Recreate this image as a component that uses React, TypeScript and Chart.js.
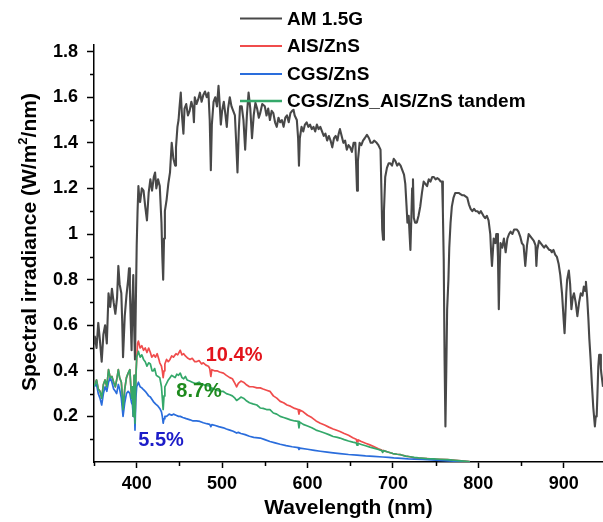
import React, { useEffect, useRef } from "react";
import { Chart, registerables } from "chart.js";

Chart.register(...registerables);

// ---------- data (wavelength nm, irradiance W/m2/nm) ----------
const am15: number[][] = [
  [350, 0.52], [351, 0.55], [353, 0.5], [355, 0.61], [357, 0.53], [359, 0.44], [361, 0.56], [363, 0.6],
  [365, 0.52], [367, 0.74], [369, 0.68], [371, 0.76], [373, 0.7], [375, 0.65], [377, 0.72], [378.5, 0.86],
  [380, 0.78], [382, 0.74], [383, 0.62], [384, 0.46], [386, 0.64], [388, 0.73], [390, 0.8], [391, 0.85],
  [392, 0.76], [393, 0.62], [394, 0.49], [395, 0.7], [396, 0.82], [397, 0.6], [398, 0.45], [399, 0.7],
  [400, 0.95], [401, 1.1], [402, 1.21], [403, 1.16], [404, 1.14], [406, 1.2], [408, 1.19], [410, 1.12],
  [412, 1.06], [414, 1.18], [416, 1.24], [418, 1.19], [420, 1.25], [421.5, 1.27], [423, 1.2], [425, 1.24],
  [427, 1.21], [429, 1.05], [430, 0.9], [431, 0.8], [432, 0.98], [433, 1.1], [435, 1.15], [437, 1.22],
  [439, 1.27], [441, 1.4], [443, 1.33], [445, 1.3], [446, 1.38], [447.7, 1.47], [449, 1.5], [450, 1.55],
  [451.6, 1.62], [453, 1.52], [454.7, 1.44], [456, 1.55], [458, 1.57], [460, 1.52], [462, 1.54], [464, 1.58],
  [466, 1.55], [467, 1.49], [468, 1.6], [470, 1.57], [472, 1.59], [474, 1.62], [476, 1.58], [478, 1.61], [480, 1.625],
  [482, 1.6], [484, 1.62], [485.5, 1.5], [486.8, 1.28], [488, 1.48], [490, 1.58], [492, 1.6], [494, 1.56],
  [495.8, 1.65], [497, 1.58], [498.5, 1.48], [500, 1.54], [502, 1.58], [504, 1.52], [505.5, 1.47], [507, 1.55],
  [509, 1.6], [511, 1.56], [513, 1.54], [515, 1.52], [516.5, 1.4], [518, 1.27], [519.5, 1.45], [521, 1.56],
  [523, 1.56], [525, 1.5], [527, 1.37], [529, 1.52], [531, 1.62], [533, 1.55], [535, 1.42], [537, 1.52],
  [539, 1.575], [541, 1.55], [543, 1.51], [544.6, 1.53], [547, 1.57], [550, 1.56], [552, 1.52], [554, 1.55],
  [556, 1.5], [558, 1.54], [560, 1.53], [562, 1.49], [564, 1.47], [566, 1.51], [568, 1.49], [570, 1.5],
  [572, 1.47], [574, 1.51], [576, 1.52], [578, 1.49], [580, 1.53], [582, 1.54], [583.6, 1.545], [585, 1.52],
  [587.5, 1.5], [589, 1.42], [590, 1.3], [591, 1.42], [593, 1.47], [595, 1.45], [597, 1.48], [599, 1.49],
  [601, 1.47], [603, 1.48], [605, 1.46], [607, 1.47], [609, 1.45], [611, 1.48], [613, 1.46], [615, 1.47],
  [617, 1.45], [619, 1.43], [621, 1.44], [623, 1.41], [625, 1.43], [627, 1.41], [629, 1.38], [631, 1.42],
  [633, 1.43], [635, 1.41], [636.5, 1.44], [638, 1.46], [640, 1.43], [642, 1.4], [644, 1.41], [646, 1.37],
  [648, 1.39], [650, 1.38], [652, 1.36], [654, 1.4], [656, 1.4], [657, 1.3], [658, 1.19], [659, 1.32],
  [661, 1.4], [663, 1.39], [665, 1.41], [667, 1.42], [669.6, 1.435], [672, 1.42], [674, 1.4], [676, 1.4],
  [678, 1.41], [681, 1.4], [683, 1.39], [685.5, 1.37], [686.5, 1.2], [687.5, 1.02], [688.5, 0.975], [689.5, 1.1],
  [691, 1.25], [693, 1.29], [695, 1.31], [697, 1.31], [699, 1.3], [701, 1.33], [703, 1.32], [705, 1.3],
  [707, 1.31], [709, 1.3], [711, 1.28], [713, 1.26], [714.5, 1.22], [716, 1.12], [717, 1.05], [718.5, 1.08],
  [719.5, 1.0], [720.5, 0.93], [721.5, 1.06], [722.5, 1.2], [723.5, 1.24], [724.5, 1.07], [726, 1.05], [728, 1.05],
  [730, 1.08], [732, 1.12], [734, 1.18], [736, 1.23], [738, 1.22], [740, 1.21], [742, 1.24], [744, 1.23],
  [746, 1.25], [748, 1.25], [750, 1.24], [752, 1.245], [754, 1.24], [756, 1.23], [757.6, 1.23], [758.5, 1.1],
  [759.5, 0.89], [760.5, 0.45], [761.5, 0.156], [762.5, 0.4], [763.5, 0.67], [765, 0.8], [766, 0.94], [767.5, 1.05],
  [769, 1.12], [771, 1.16], [773, 1.18], [775, 1.18], [777, 1.18], [779, 1.175], [781, 1.17], [783, 1.17],
  [785, 1.165], [787, 1.16], [789, 1.13], [791, 1.11], [793, 1.1], [795, 1.11], [797, 1.1], [799, 1.1],
  [801, 1.09], [803, 1.1], [806, 1.08], [808, 1.07], [810, 1.08], [812, 1.06], [814, 1.0], [815, 0.92],
  [816, 0.86], [817, 0.92], [818, 0.98], [820, 0.96], [821, 1.0], [822, 1.0], [823, 0.9], [824, 0.67],
  [825, 0.85], [826, 0.96], [828, 0.94], [830, 0.98], [832, 0.92], [834, 0.98], [836, 1.0], [837.7, 1.01],
  [840, 1.0], [842, 1.02], [845, 1.02], [847, 1.01], [849, 0.99], [851, 0.96], [853, 0.95], [855, 0.86],
  [857, 0.95], [859, 1.0], [861, 0.99], [863, 0.98], [865, 0.97], [867, 0.95], [868, 0.86], [869, 0.93],
  [871, 0.97], [873, 0.96], [875, 0.95], [877, 0.94], [879, 0.95], [881, 0.94], [883, 0.93], [884.6, 0.93],
  [886, 0.92], [888, 0.93], [890, 0.91], [892, 0.9], [894, 0.87], [896, 0.82], [898, 0.74], [900, 0.62],
  [901, 0.565], [902, 0.65], [903, 0.74], [904, 0.8], [906, 0.84], [907.5, 0.78], [909, 0.67], [910.5, 0.72],
  [912, 0.74], [914, 0.7], [916, 0.64], [918, 0.7], [920, 0.74], [922, 0.73], [923.6, 0.77], [925, 0.75],
  [926, 0.79], [927.5, 0.72], [929, 0.62], [930, 0.54], [931.5, 0.45], [933, 0.34], [934.6, 0.24], [936.5, 0.156],
  [937.5, 0.2], [938.6, 0.2], [939.5, 0.3], [940.5, 0.42], [941.5, 0.47], [942.5, 0.47], [943.5, 0.41], [944, 0.39],
  [945, 0.36], [946, 0.33],
];

const aisZns: number[][] = [
  [350, 0.33], [351, 0.33], [353, 0.36], [355, 0.32], [357, 0.31], [359, 0.28], [361, 0.34], [363, 0.36],
  [365, 0.33], [367, 0.405], [369, 0.37], [371, 0.375], [373, 0.35], [375, 0.33], [377, 0.37], [378.5, 0.405],
  [380, 0.37], [382, 0.35], [383, 0.3], [384, 0.23], [386, 0.32], [388, 0.37], [390, 0.39], [392, 0.405],
  [393, 0.34], [394, 0.28], [395, 0.33], [396, 0.2], [397, 0.38], [398, 0.17], [399, 0.38], [400, 0.45],
  [401, 0.52], [402, 0.53], [404, 0.5], [406, 0.51], [408, 0.49], [410, 0.5], [412, 0.48], [414, 0.5],
  [416, 0.48], [417.6, 0.46], [420, 0.47], [422, 0.46], [424, 0.475], [426, 0.45], [427, 0.435], [429, 0.42],
  [430, 0.4], [431, 0.37], [432, 0.4], [433, 0.43], [435, 0.45], [437, 0.44], [439, 0.45], [441, 0.465],
  [443, 0.46], [446, 0.475], [448, 0.47], [451, 0.49], [453, 0.47], [455, 0.475], [457, 0.465], [460, 0.455],
  [462.5, 0.45], [465, 0.455], [468, 0.44], [470, 0.44], [473, 0.445], [476, 0.43], [478, 0.435], [481, 0.425],
  [484, 0.42], [485.5, 0.41], [486.8, 0.375], [488, 0.405], [491, 0.4], [494, 0.4], [497, 0.395], [501.6, 0.39],
  [505, 0.38], [509, 0.37], [512, 0.365], [515, 0.345], [517, 0.33], [519, 0.345], [522, 0.355], [525, 0.35],
  [528, 0.34], [532, 0.33], [536, 0.33], [540.7, 0.325], [544.6, 0.325], [548, 0.32], [552, 0.315], [556, 0.31],
  [560, 0.29], [564, 0.28], [568, 0.266], [572, 0.26], [576, 0.25], [580, 0.245], [585, 0.235], [589, 0.23],
  [590, 0.21], [591, 0.228], [595, 0.22], [600, 0.205], [605, 0.195], [610, 0.18], [615, 0.17], [620, 0.162],
  [625, 0.153], [630, 0.145], [635, 0.138], [638, 0.134], [643, 0.125], [648, 0.117], [653, 0.106], [657, 0.1],
  [658, 0.088], [659, 0.097], [663, 0.09], [668, 0.082], [673, 0.075], [677.5, 0.068], [683, 0.058], [687, 0.052],
  [688, 0.045], [689, 0.05], [695, 0.043], [700, 0.037], [705, 0.034], [709, 0.032], [715, 0.026], [720, 0.023],
  [725, 0.018], [730, 0.017], [740, 0.015], [748, 0.013], [755, 0.012], [764, 0.01], [770, 0.008], [780, 0.005],
  [790, 0.002],
];

const cgsZns: number[][] = [
  [350, 0.33], [351, 0.33], [353, 0.34], [355, 0.3], [357, 0.28], [359, 0.25], [361, 0.3], [363, 0.33],
  [365, 0.31], [367, 0.35], [369, 0.37], [371, 0.35], [373, 0.32], [375, 0.31], [376.5, 0.3], [378.5, 0.34],
  [380, 0.32], [382, 0.28], [384, 0.2], [386, 0.26], [388, 0.3], [390, 0.31], [392, 0.3], [394, 0.26],
  [395, 0.25], [396, 0.2], [397, 0.27], [398, 0.14], [399, 0.28], [400, 0.33], [402, 0.35], [404, 0.33],
  [406, 0.325], [408, 0.317], [410, 0.31], [412, 0.3], [414, 0.29], [416, 0.285], [419.5, 0.265], [422, 0.255],
  [425, 0.245], [427, 0.235], [429, 0.22], [430, 0.2], [431, 0.17], [432, 0.19], [433, 0.2], [435, 0.2],
  [438, 0.21], [441, 0.205], [443, 0.21], [446, 0.205], [449, 0.2], [451, 0.2], [454, 0.195], [458, 0.19],
  [462.5, 0.185], [466, 0.18], [470, 0.18], [474, 0.178], [478, 0.172], [482, 0.168], [485.5, 0.165], [486.8, 0.155],
  [488, 0.164], [492, 0.16], [496, 0.155], [501.6, 0.15], [505, 0.145], [509, 0.14], [513, 0.135], [517, 0.127],
  [519, 0.13], [522, 0.125], [527, 0.12], [532, 0.113], [537, 0.108], [544.6, 0.105], [550, 0.098], [556, 0.09],
  [562, 0.084], [568, 0.078], [575, 0.072], [582, 0.067], [589, 0.063], [590, 0.055], [591, 0.061], [600, 0.056],
  [608, 0.051], [615, 0.047], [623, 0.043], [630, 0.04], [638, 0.037], [648, 0.033], [658, 0.03], [668, 0.027],
  [677.5, 0.025], [688, 0.022], [695, 0.02], [701, 0.018], [710, 0.016], [718, 0.014], [725, 0.013], [735, 0.011],
  [745, 0.009], [755, 0.007], [765, 0.005], [775, 0.003], [790, 0.001],
];

const tandem: number[][] = [
  [350, 0.33], [351, 0.33], [353, 0.36], [355, 0.32], [357, 0.31], [359, 0.28], [361, 0.34], [363, 0.36],
  [365, 0.33], [367, 0.405], [369, 0.37], [371, 0.375], [373, 0.35], [375, 0.33], [377, 0.37], [378.5, 0.405],
  [380, 0.37], [382, 0.35], [383, 0.3], [384, 0.23], [386, 0.32], [388, 0.37], [390, 0.39], [392, 0.405],
  [393, 0.34], [394, 0.28], [395, 0.33], [396, 0.2], [397, 0.38], [398, 0.17], [399, 0.36], [400, 0.46],
  [402, 0.485], [404, 0.46], [406, 0.47], [408, 0.45], [410, 0.44], [412, 0.42], [414, 0.435], [416, 0.43],
  [418, 0.4], [419.5, 0.4], [421, 0.41], [423, 0.38], [425, 0.375], [427, 0.37], [429, 0.33], [430, 0.28],
  [431, 0.23], [432, 0.29], [433, 0.33], [435, 0.345], [437, 0.36], [439, 0.37], [441, 0.38], [443, 0.375],
  [445, 0.37], [447, 0.385], [449, 0.38], [451, 0.39], [453, 0.37], [455, 0.365], [457, 0.375], [459, 0.36],
  [462, 0.355], [465, 0.35], [468, 0.345], [470, 0.345], [473, 0.35], [476, 0.34], [478, 0.34], [481, 0.335],
  [484, 0.335], [486, 0.33], [487, 0.31], [488, 0.325], [491, 0.32], [494, 0.315], [498, 0.31], [501, 0.31],
  [505, 0.3], [509, 0.295], [512, 0.29], [515, 0.28], [517, 0.27], [519, 0.275], [522, 0.285], [525, 0.28],
  [528, 0.27], [532, 0.26], [536, 0.255], [540.7, 0.25], [544.6, 0.237], [548, 0.235], [552, 0.23], [556, 0.23],
  [560, 0.215], [564, 0.21], [568, 0.2], [572, 0.195], [576, 0.19], [580, 0.185], [585, 0.18], [589, 0.178],
  [590, 0.15], [591, 0.175], [595, 0.165], [600, 0.158], [605, 0.15], [610, 0.14], [615, 0.134], [620, 0.127],
  [625, 0.12], [630, 0.112], [635, 0.108], [638, 0.105], [643, 0.098], [648, 0.092], [653, 0.087], [657, 0.084],
  [658, 0.074], [659, 0.082], [663, 0.077], [668, 0.071], [673, 0.065], [677.5, 0.061], [683, 0.055], [687, 0.05],
  [688, 0.042], [689, 0.05], [695, 0.043], [700, 0.037], [705, 0.034], [709, 0.032], [715, 0.026], [720, 0.023],
  [725, 0.02], [730, 0.018], [740, 0.015], [748, 0.014], [755, 0.012], [764, 0.01], [770, 0.008], [780, 0.005],
  [790, 0.002],
];

const seriesLabels = ["AM 1.5G", "AIS/ZnS", "CGS/ZnS", "CGS/ZnS_AIS/ZnS tandem"];
const xMajorTicks = [400, 500, 600, 700, 800, 900];
const xMinorTicks = [350, 450, 550, 650, 750, 850];
const yMajorTicks = [0.2, 0.4, 0.6, 0.8, 1.0, 1.2, 1.4, 1.6, 1.8];
const yMinorTicks = [0.1, 0.3, 0.5, 0.7, 0.9, 1.1, 1.3, 1.5, 1.7];
const efficiencyTexts = ["10.4%", "8.7%", "5.5%"];
const efficiencyAt = [
  [514, 0.468],
  [473, 0.308],
  [428.5, 0.093],
];

// ---------- styles ----------
const FONT = "'Liberation Sans', Arial, Helvetica, sans-serif";
const GRAY = "#484848";
const RED = "#f04c4c";
const BLUE = "#2a6ddc";
const GREEN = "#34a86a";
const lineColors = [GRAY, RED, BLUE, GREEN];
const textColors = ["#e3141c", "#1e8a1e", "#1c1cc8"];

export default function App() {
  const ref = useRef<HTMLCanvasElement>(null);

  useEffect(() => {
    const canvas = ref.current;
    if (!canvas) return;
    const toXY = (arr: number[][]) => arr.map(([x, y]) => ({ x, y }));

    const overlay = {
      id: "overlay",
      afterDraw(chart: any) {
        const ctx = chart.ctx as CanvasRenderingContext2D;
        const xs = chart.scales.x;
        const ys = chart.scales.y;
        const area = chart.chartArea;
        ctx.save();
        // minor ticks
        ctx.strokeStyle = "#000";
        ctx.lineWidth = 1.5;
        ctx.beginPath();
        xMinorTicks.forEach((v) => {
          const px = Math.round(xs.getPixelForValue(v)) + 0.5;
          ctx.moveTo(px, area.bottom);
          ctx.lineTo(px, area.bottom + 4);
        });
        yMinorTicks.forEach((v) => {
          const py = Math.round(ys.getPixelForValue(v)) + 0.5;
          ctx.moveTo(area.left, py);
          ctx.lineTo(area.left - 4, py);
        });
        ctx.stroke();

        // efficiency labels
        ctx.font = `bold 20px ${FONT}`;
        ctx.textAlign = "center";
        ctx.textBaseline = "middle";
        efficiencyTexts.forEach((t, i) => {
          ctx.fillStyle = textColors[i];
          ctx.fillText(t, xs.getPixelForValue(efficiencyAt[i][0]), ys.getPixelForValue(efficiencyAt[i][1]));
        });

        // legend
        const rows = [18.5, 46, 74, 101];
        ctx.font = `bold 19px ${FONT}`;
        ctx.textAlign = "left";
        chart.data.datasets.forEach((ds: any, i: number) => {
          const y = rows[i];
          ctx.strokeStyle = ds.borderColor;
          ctx.lineWidth = i === 3 ? 2.5 : 1.8;
          ctx.beginPath();
          ctx.moveTo(240, y);
          ctx.lineTo(282, y);
          ctx.stroke();
          ctx.fillStyle = "#000";
          ctx.fillText(ds.label, 287, y + 1);
        });

        // y-axis title with superscript
        ctx.translate(28, 242);
        ctx.rotate(-Math.PI / 2);
        const big = `bold 21px ${FONT}`;
        const small = `bold 13px ${FONT}`;
        const p1 = "Spectral irradiance (W/m";
        const p2 = "2";
        const p3 = "/nm)";
        ctx.font = big;
        const w1 = ctx.measureText(p1).width;
        const w3 = ctx.measureText(p3).width;
        ctx.font = small;
        const w2 = ctx.measureText(p2).width;
        let x0 = -(w1 + w2 + w3) / 2;
        ctx.fillStyle = "#000";
        ctx.textBaseline = "alphabetic";
        ctx.font = big;
        ctx.fillText(p1, x0, 7.5);
        x0 += w1;
        ctx.font = small;
        ctx.fillText(p2, x0, -1.5);
        x0 += w2;
        ctx.font = big;
        ctx.fillText(p3, x0, 7.5);
        ctx.restore();
      },
    };

    const tickFont = { family: FONT, weight: "bold" as const, size: 18 };

    const chart = new Chart(canvas, {
      type: "line",
      data: {
        datasets: [am15, aisZns, cgsZns, tandem].map((arr, i) => ({
          label: seriesLabels[i],
          data: toXY(arr),
          borderColor: lineColors[i],
          backgroundColor: lineColors[i],
          borderWidth: i === 0 ? 2.1 : 1.7,
          borderJoinStyle: "round",
          pointRadius: 0,
          tension: 0,
          fill: false,
          order: [4, 3, 2, 1][i],
        })),
      },
      options: {
        responsive: false,
        animation: false,
        devicePixelRatio: 1,
        events: [],
        layout: { padding: { top: 45, right: 0, bottom: 0, left: 0 } },
        plugins: { legend: { display: false }, tooltip: { enabled: false } },
        scales: {
          x: {
            type: "linear",
            min: 350,
            max: 946,
            position: "bottom",
            afterBuildTicks: (s: any) => {
              s.ticks = xMajorTicks.map((v) => ({ value: v }));
            },
            afterFit: (s: any) => {
              s.height = 60;
            },
            grid: { display: true, drawOnChartArea: false, drawTicks: true, tickLength: 6, tickWidth: 1.5, tickColor: "#000" },
            border: { display: true, color: "#000", width: 1.5 },
            ticks: {
              font: tickFont,
              color: "#000",
              padding: 5,
              maxRotation: 0,
              autoSkip: false,
              callback: (v: any) => String(v),
            },
            title: {
              display: true,
              text: "Wavelength (nm)",
              color: "#000",
              font: { family: FONT, weight: "bold", size: 21 },
              padding: { top: 0, bottom: 1.5 },
            },
          },
          y: {
            type: "linear",
            min: 0,
            max: 1.829,
            position: "left",
            afterBuildTicks: (s: any) => {
              s.ticks = yMajorTicks.map((v) => ({ value: v }));
            },
            afterFit: (s: any) => {
              s.width = 94;
            },
            grid: { display: true, drawOnChartArea: false, drawTicks: true, tickLength: 7, tickWidth: 1.5, tickColor: "#000" },
            border: { display: true, color: "#000", width: 1.5 },
            ticks: {
              font: tickFont,
              color: "#000",
              padding: 9,
              autoSkip: false,
              callback: (v: any) => String(Math.round(Number(v) * 10) / 10),
            },
          },
        },
      },
      plugins: [overlay],
    } as any);

    return () => chart.destroy();
  }, []);

  return (
    <div style={{ position: "fixed", left: 0, top: 0, width: 603, height: 522, background: "#fff" }}>
      <canvas ref={ref} width={603} height={522} style={{ width: 603, height: 522, display: "block" }} />
    </div>
  );
}
